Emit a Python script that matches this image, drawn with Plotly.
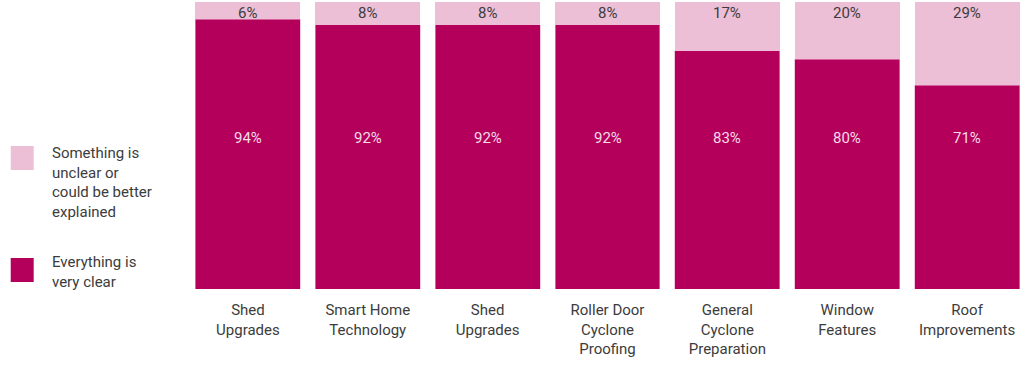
import plotly.graph_objects as go

categories = ["Shed<br>Upgrades", "Smart Home<br>Technology", "Shed<br>Upgrades",
              "Roller Door<br>Cyclone<br>Proofing", "General<br>Cyclone<br>Preparation",
              "Window<br>Features", "Roof<br>Improvements"]
clear_pct = [94, 92, 92, 92, 83, 80, 71]
unclear_pct = [6, 8, 8, 8, 17, 20, 29]
legend_names = ["Something is<br>unclear or<br>could be better<br>explained",
                "Everything is<br>very clear"]

DARK = "#B5005B"
LIGHT = "#EDBFD6"
TEXT = "#3c3c3c"
FONT = "Roboto"

x = list(range(len(categories)))

fig = go.Figure()
fig.add_trace(go.Bar(x=x, y=[v / 100 for v in clear_pct], marker=dict(color=DARK, line=dict(color="#e7a3c4", width=0.6)),
                     name="clear", showlegend=False, hoverinfo="skip"))
fig.add_trace(go.Bar(x=x, y=[v / 100 for v in unclear_pct], marker=dict(color=LIGHT, line=dict(width=0)),
                     name="unclear", showlegend=False, hoverinfo="skip"))

annotations = []
for i, (c, u) in enumerate(zip(clear_pct, unclear_pct)):
    annotations.append(dict(x=i, y=1.0, xref="x", yref="y", text=f"{u}%", showarrow=False,
                            yanchor="top", yshift=0, font=dict(family=FONT, size=15, color=TEXT)))
    annotations.append(dict(x=i, y=0.526, xref="x", yref="y", text=f"{c}%", showarrow=False,
                            yanchor="middle", font=dict(family=FONT, size=15, color="#f6dbe8")))

# manual legend
shapes = []
legend_items = [(legend_names[0], LIGHT, 158, 182), (legend_names[1], DARK, 270, 272)]
for name, col, sq_y, txt_y in legend_items:
    shapes.append(dict(type="rect", xref="paper", yref="paper",
                       x0=(10 - 187.5) / 840, x1=(33 - 187.5) / 840,
                       y0=(289 - sq_y - 12) / 287, y1=(289 - sq_y + 12) / 287,
                       fillcolor=col, line=dict(width=0)))
    annotations.append(dict(x=(49 - 187.5) / 840, y=(289 - txt_y) / 287, xref="paper", yref="paper",
                            text=name, showarrow=False, xanchor="left", yanchor="middle", align="left",
                            font=dict(family=FONT, size=15, color=TEXT)))

fig.update_layout(
    barmode="stack",
    bargap=0.125,
    width=1031, height=366,
    margin=dict(l=187.5, r=3.5, t=2, b=77),
    paper_bgcolor="white", plot_bgcolor="white",
    showlegend=False,
    annotations=annotations,
    shapes=shapes,
    xaxis=dict(tickmode="array", tickvals=x, ticktext=categories, showgrid=False, zeroline=False,
               showline=False, ticks="", tickfont=dict(family=FONT, size=15, color=TEXT),
               range=[-0.5, len(categories) - 0.5], ticklabelstandoff=10),
    yaxis=dict(range=[0, 1], visible=False, showgrid=False, zeroline=False),
)

fig.write_html("out.html", config={"displayModeBar": False},
               post_script="document.body.style.margin='0';")
